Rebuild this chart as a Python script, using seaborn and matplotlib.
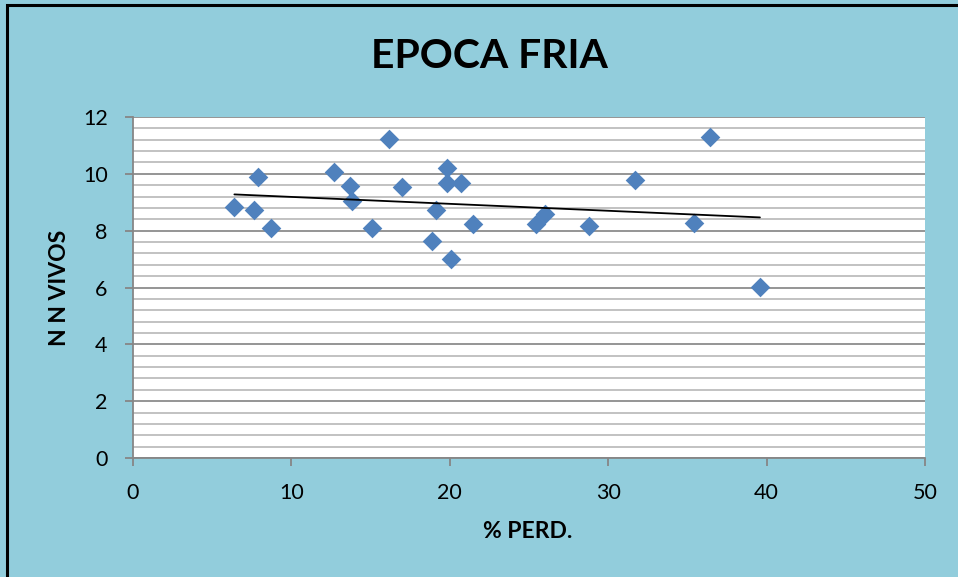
import numpy as np
import pandas as pd
import matplotlib
matplotlib.use("Agg")
import matplotlib.pyplot as plt
import seaborn as sns
from matplotlib.patches import Rectangle
from matplotlib.ticker import MultipleLocator

# ---- data ----
perd = [6.40, 7.66, 7.89, 8.73, 12.67, 13.68, 13.81, 15.10, 16.14, 16.96,
        18.90, 19.13, 19.80, 19.80, 20.06, 20.73, 21.48, 25.42, 26.01, 28.79,
        31.67, 35.40, 36.45, 39.58]
vivos = [8.82, 8.72, 9.88, 8.09, 10.07, 9.56, 9.05, 8.08, 11.24, 9.55,
         7.63, 8.72, 10.21, 9.69, 7.02, 9.69, 8.22, 8.25, 8.57, 8.17,
         9.80, 8.26, 11.29, 6.02]
title = "EPOCA FRIA"
xlabel = "% PERD."
ylabel = "N N VIVOS"

df = pd.DataFrame({"perd": perd, "vivos": vivos})

sns.set_theme(style="white")
plt.rcParams["font.family"] = ["Lato", "DejaVu Sans"]
plt.rcParams["text.color"] = "black"
plt.rcParams["axes.labelcolor"] = "black"

bg = "#92CDDC"
fig = plt.figure(figsize=(9.58, 5.77), dpi=100, facecolor=bg)
ax = fig.add_axes([133/958, 1-458/577, (925-133)/958, (458-117)/577])
ax.set_facecolor("white")

# grid
ax.set_xlim(0, 50)
ax.set_ylim(0, 12)
ax.yaxis.set_major_locator(MultipleLocator(2))
ax.yaxis.set_minor_locator(MultipleLocator(0.4))
ax.xaxis.set_major_locator(MultipleLocator(10))
ax.grid(False)
ax.grid(True, axis="y", which="major", color="#8C8C8C", lw=1.3, zorder=0)
ax.grid(True, axis="y", which="minor", color="#BDBDBD", lw=1.3, zorder=0)
ax.set_axisbelow(True)

sns.scatterplot(data=df, x="perd", y="vivos", marker="D", s=100,
                color="#4F81BD", edgecolor="#4F81BD", linewidth=0, ax=ax, zorder=3)

# linear trendline
coef = np.polyfit(df["perd"], df["vivos"], 1)
xs = np.array([min(perd), max(perd)])
ax.plot(xs, np.polyval(coef, xs), color="black", lw=1.3, zorder=4)

for side in ["top", "right"]:
    ax.spines[side].set_visible(False)
for side in ["left", "bottom"]:
    ax.spines[side].set_color("#868686")
    ax.spines[side].set_linewidth(1.3)

ax.tick_params(axis="both", which="major", direction="out", length=5.8, width=1.3,
               color="#868686", labelsize=15.5, labelcolor="black", pad=12.5,
               left=True, bottom=True)
ax.tick_params(axis="y", which="minor", length=0)

ax.set_xlabel(xlabel, fontsize=16.5, fontweight="bold", va="center")
ax.set_ylabel(ylabel, fontsize=16.5, fontweight="bold", va="center")
ax.xaxis.set_label_coords((528-133)/792, (458-532)/341)
ax.yaxis.set_label_coords((60-133)/792, (458-288)/341)
fig.text(489/958, 1-56/577, title, fontsize=29.4, fontweight="bold",
         ha="center", va="center", color="black")

# outer border (top & left visible)
fig.patches.append(Rectangle((7/958, -0.2), 1.5, 1-5/577+0.2, fill=False,
                             edgecolor="black", lw=2.2,
                             transform=fig.transFigure, figure=fig))

fig.savefig("out.png", dpi=100, facecolor=bg)
